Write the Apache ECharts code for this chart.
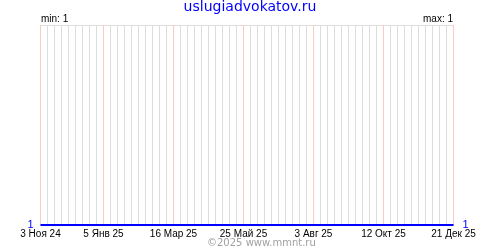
<!DOCTYPE html>
<html><head><meta charset="utf-8">
<script src="https://cdn.jsdelivr.net/npm/echarts@6/dist/echarts.min.js"></script>
<style>html,body{margin:0;padding:0;background:#fff}#c{width:500px;height:250px}</style>
</head><body><div id="c"></div>
<script>
const titleText = 'uslugiadvokatov.ru';
const footerText = '\u00a92025 www.mmnt.ru';
const startDate = '2024-11-03';
const endDate = '2025-12-21';
const labelDates = ['2024-11-03','2025-01-05','2025-03-16','2025-05-25','2025-08-03','2025-10-12','2025-12-21'];
const tickLabels = ['3 Ноя 24','5 Янв 25','16 Мар 25','25 Май 25','3 Авг 25','12 Окт 25','21 Дек 25'];
const seriesDates = ['2024-11-03','2025-12-21'];
const seriesValues = [1, 1];
const minLabel = 'min: 1';
const maxLabel = 'max: 1';

const DAY = 86400000;
const WEEK = 7;
const dayIndex = d => Math.round((Date.parse(d + 'T00:00:00Z') - Date.parse(startDate + 'T00:00:00Z')) / DAY);
const labelIdx = labelDates.map(dayIndex);
const FONT = 'DejaVu Sans';
const LFONT = 'Liberation Sans';
const xMax = dayIndex(endDate);
const GRAY = '#dddddd', PINK = '#ffc8c8';
const nLines = xMax / WEEK + 1;
const splitColors = [];
for (let i = 0; i < nLines; i++) splitColors.push(labelIdx.indexOf(i * WEEK) >= 0 ? PINK : GRAY);

const chart = echarts.init(document.getElementById('c'), null, {renderer: 'canvas'});
chart.setOption({
  animation: false,
  backgroundColor: '#fff',
  textStyle: {fontFamily: LFONT},
  title: {
    text: titleText, left: 'center', top: 0, padding: 0,
    textStyle: {color: '#0000ff', fontSize: 14, fontWeight: 'normal', fontFamily: FONT}
  },
  grid: {left: 40.5, right: 46.5, top: 25, bottom: 25, containLabel: false},
  xAxis: {
    type: 'value', min: 0, max: xMax, interval: WEEK,
    axisLine: {show: false}, axisTick: {show: false},
    splitLine: {show: true, lineStyle: {color: splitColors, width: 1}},
    axisLabel: {
      customValues: labelIdx, showMinLabel: true, showMaxLabel: true,
      formatter: v => tickLabels[labelIdx.indexOf(v)] || '',
      color: '#000', fontSize: 10, margin: 4, fontFamily: LFONT
    }
  },
  yAxis: [{
    type: 'value', min: 1, max: 2, interval: 1, position: 'left',
    axisLine: {show: false}, axisTick: {show: false},
    splitLine: {show: true, lineStyle: {color: GRAY}},
    axisLabel: {formatter: v => v === 1 ? '1' : '', color: '#0000ff', fontSize: 11, margin: 7, fontFamily: LFONT}
  }, {
    type: 'value', min: 1, max: 2, interval: 1, position: 'right',
    axisLine: {show: false}, axisTick: {show: false}, splitLine: {show: false},
    axisLabel: {formatter: v => v === 1 ? '1' : '', color: '#0000ff', fontSize: 11, margin: 9, fontFamily: LFONT}
  }],
  graphic: [
    {type: 'text', left: 41, top: 14, style: {text: minLabel, fill: '#000', font: '10px "Liberation Sans"'}},
    {type: 'text', right: 47, top: 14, style: {text: maxLabel, fill: '#000', font: '10px "Liberation Sans"'}},
    {type: 'text', left: 207, top: 238, style: {text: footerText, fill: '#a0a0a0', font: '10px "DejaVu Sans"'}}
  ],
  series: [{
    type: 'line',
    data: seriesDates.map((d, i) => [dayIndex(d), seriesValues[i]]),
    symbol: 'none', lineStyle: {color: '#0000ff', width: 2}, z: 5
  }]
});
</script></body></html>
